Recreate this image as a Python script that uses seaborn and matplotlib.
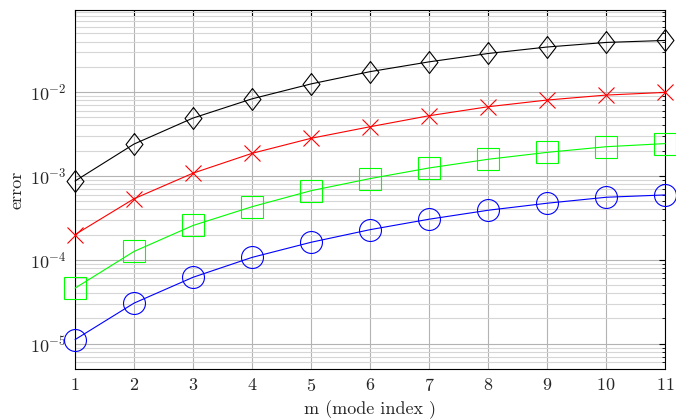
import numpy as np
import pandas as pd
import matplotlib
matplotlib.use("Agg")
import matplotlib.pyplot as plt
import seaborn as sns
from matplotlib.ticker import LogLocator, NullFormatter

# mode index
m = [1, 2, 3, 4, 5, 6, 7, 8, 9, 10, 11]

# error values
err_diamond = [8.7e-4, 2.4e-3, 4.9e-3, 8.3e-3, 1.25e-2, 1.75e-2, 2.29e-2, 2.88e-2, 3.44e-2, 3.9e-2, 4.12e-2]
err_cross = [2.0e-4, 5.35e-4, 1.08e-3, 1.86e-3, 2.81e-3, 3.86e-3, 5.22e-3, 6.68e-3, 8.03e-3, 9.2e-3, 9.9e-3]
err_square = [4.6e-5, 1.26e-4, 2.57e-4, 4.3e-4, 6.67e-4, 9.3e-4, 1.245e-3, 1.58e-3, 1.91e-3, 2.23e-3, 2.43e-3]
err_circle = [1.12e-5, 3.05e-5, 6.2e-5, 1.07e-4, 1.62e-4, 2.29e-4, 3.05e-4, 3.9e-4, 4.73e-4, 5.57e-4, 5.94e-4]

sns.set_style("white")
plt.rcParams["font.family"] = "serif"
plt.rcParams["font.serif"] = ["cmr10", "DejaVu Serif"]
plt.rcParams["mathtext.fontset"] = "cm"
plt.rcParams["axes.formatter.use_mathtext"] = True
plt.rcParams["font.size"] = 13

fig = plt.figure(figsize=(6.76, 4.20), dpi=100)
ax = fig.add_axes([0.111, 0.1214, 0.873, 0.8548])

#pgfplots-like narrow diamond
diamond = [(0, 1), (0.77, 0), (0, -1), (-0.77, 0), (0, 1)]

series = [
    (err_diamond, "black", diamond, 15.8),
    (err_cross, "red", "x", 11),
    (err_square, "#00ff00", "s", 15.8),
    (err_circle, "blue", "o", 15.8),
]
for vals, col, mk, ms in series:
    sns.lineplot(x=m, y=vals, ax=ax, color=col, marker=mk, markersize=ms,
                 markerfacecolor="none", markeredgecolor=col, markeredgewidth=0.8,
                 linewidth=0.8, zorder=3, clip_on=False)

ax.set_yscale("log")
ax.set_xlim(1, 11)
ax.set_ylim(5e-6, 0.095)
ax.set_xticks(m)
ax.yaxis.set_major_locator(LogLocator(base=10, numticks=20))
ax.yaxis.set_minor_locator(LogLocator(base=10, subs=np.arange(2, 10), numticks=20))
ax.yaxis.set_minor_formatter(NullFormatter())

ax.grid(True, which="major", color="#b3b3b3", linewidth=0.8)
ax.grid(True, which="minor", axis="y", color="#d6d6d6", linewidth=0.8)
ax.set_axisbelow(True)
for s in ax.spines.values():
    s.set_color("black")
    s.set_linewidth(0.8)
ax.tick_params(which="both", direction="in", right=True, top=True, color="black")
ax.tick_params(which="major", length=4, labelsize=13, pad=6)
ax.tick_params(which="minor", length=2.5)

ax.set_xlabel("m (mode index )", fontsize=13)
ax.set_ylabel("error", fontsize=13)

fig.savefig("out.png", dpi=100)
